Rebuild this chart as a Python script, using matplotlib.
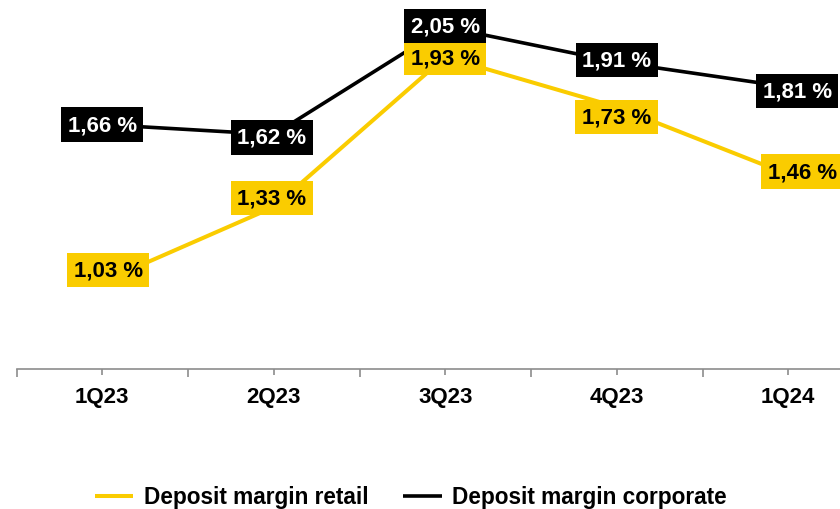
import matplotlib
matplotlib.use("Agg")
import matplotlib.pyplot as plt

plt.rcParams['font.family'] = ['Liberation Sans', 'DejaVu Sans']

quarters = ["1Q23", "2Q23", "3Q23", "4Q23", "1Q24"]
retail = [1.03, 1.33, 1.93, 1.73, 1.46]
corporate = [1.66, 1.62, 2.05, 1.91, 1.81]

YELLOW = "#FACC00"
BLACK = "#000000"
GRAY = "#8C8C8C"

# label offsets in pixels (dx, dy)
retail_off = [(6, 12), (-2, 9), (0, -1), (0, -10), (14, 3)]
corp_off = [(0, 0), (-2, -3), (0, 1), (0, 2), (9, -4)]

fig = plt.figure(figsize=(8.4, 5.1), dpi=100)
ax = fig.add_axes([16.5 / 840, 140 / 510, 857.5 / 840, 370 / 510])

x = list(range(len(quarters)))
l1, = ax.plot(x, retail, color=YELLOW, lw=2.9, solid_capstyle='butt', zorder=2,
              label="Deposit margin retail")
l2, = ax.plot(x, corporate, color=BLACK, lw=2.6, solid_capstyle='butt', zorder=3,
              label="Deposit margin corporate")

def fmt(v):
    return f"{v:.2f}".replace('.', ',') + " %"

for i, v in enumerate(retail):
    ax.annotate(fmt(v), (i, v), xytext=retail_off[i], textcoords='offset pixels',
                ha='center', va='center', fontsize=16, fontweight='bold', color='black',
                bbox=dict(boxstyle='square,pad=0.3', fc=YELLOW, ec='none'), zorder=5,
                annotation_clip=False)
for i, v in enumerate(corporate):
    ax.annotate(fmt(v), (i, v), xytext=corp_off[i], textcoords='offset pixels',
                ha='center', va='center', fontsize=16, fontweight='bold', color='white',
                bbox=dict(boxstyle='square,pad=0.3', fc=BLACK, ec='none'), zorder=6,
                annotation_clip=False)

ax.set_xlim(-0.5, len(quarters) - 0.5)
ax.set_ylim(0.682, 2.162)
ax.set_yticks([])
for s in ['top', 'left', 'right']:
    ax.spines[s].set_visible(False)
ax.spines['bottom'].set_color(GRAY)
ax.spines['bottom'].set_linewidth(1.2)

ax.set_xticks(x)
ax.set_xticklabels(quarters, fontsize=16, fontweight='bold')
ax.set_xticks([i - 0.5 for i in range(len(quarters) + 1)], minor=True)
ax.tick_params(axis='x', which='major', length=4, width=1.2, color=GRAY, pad=8, direction='out')
ax.tick_params(axis='x', which='minor', length=6, width=1.2, color=GRAY, direction='out')
ax.patch.set_alpha(0)

fig.legend(handles=[l1, l2], loc='center left', bbox_to_anchor=(95 / 840, 1 - 498 / 510),
           ncol=2, frameon=False, prop={'size': 16.3, 'weight': 'bold'},
           handlelength=1.7, handletextpad=0.45, columnspacing=1.55,
           borderpad=0, borderaxespad=0)

fig.savefig("out.png", dpi=100)
